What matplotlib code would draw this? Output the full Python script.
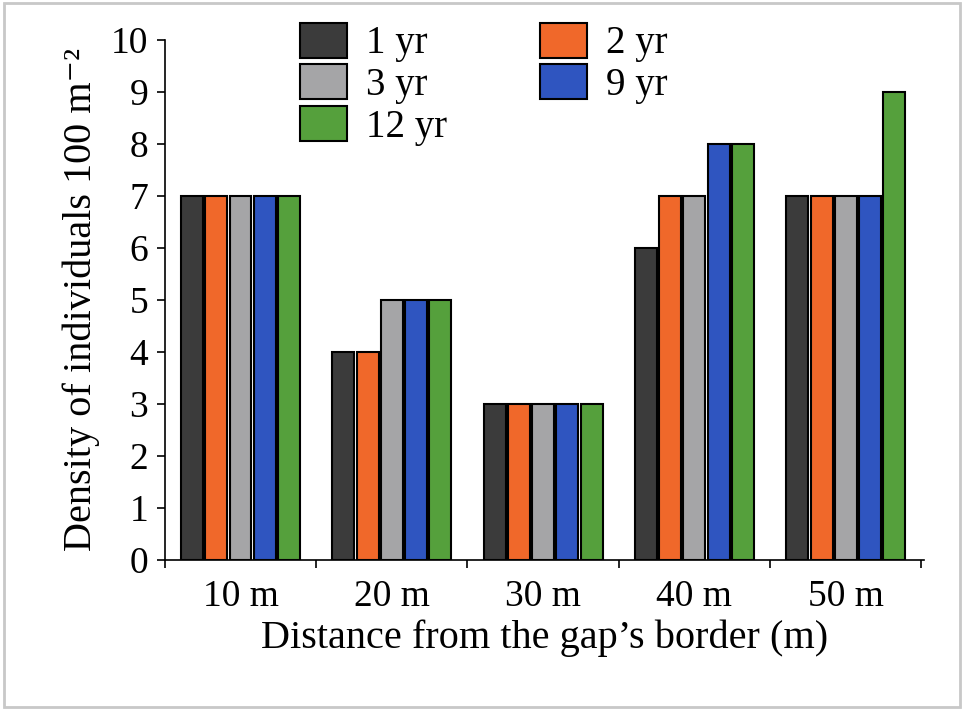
import matplotlib.pyplot as plt
import numpy as np
from matplotlib.patches import Rectangle

plt.rcParams['font.family'] = ['Liberation Serif', 'DejaVu Serif']

distances = ["10 m", "20 m", "30 m", "40 m", "50 m"]
series_labels = ["1 yr", "2 yr", "3 yr", "9 yr", "12 yr"]
values = {
    "1 yr": [7, 4, 3, 6, 7],
    "2 yr": [7, 4, 3, 7, 7],
    "3 yr": [7, 5, 3, 7, 7],
    "9 yr": [7, 5, 3, 8, 7],
    "12 yr": [7, 5, 3, 8, 9],
}
colors = ["#3b3b3b", "#f0682a", "#a5a5a7", "#2f55c0", "#55a03c"]

fig = plt.figure(figsize=(9.64, 7.10), dpi=100)
fig.patches.append(Rectangle((0.004, 0.004), 0.992, 0.992, transform=fig.transFigure,
                             fill=False, edgecolor="#c8c8c8", linewidth=2))
ax = fig.add_axes([0.171, 0.211, 0.788, 0.733])

x = np.arange(len(distances))
width = 0.145
step = 0.16
handles = {}
for i, (lab, col) in enumerate(zip(series_labels, colors)):
    handles[lab] = ax.bar(x + (i - 2) * step, values[lab], width, color=col,
                          edgecolor="black", linewidth=1.5, label=lab, zorder=3)

ax.set_xlim(-0.42, 4.52)
ax.set_ylim(0, 10)
ax.set_yticks(range(0, 11))
ax.set_xticks(x)
ax.set_xticklabels(distances)
ax.set_xticks(np.arange(-0.5, 5, 1), minor=True)
ax.tick_params(axis="x", which="major", length=0, pad=14, labelsize=27)
ax.tick_params(axis="x", which="minor", length=6, width=1.2)
ax.tick_params(axis="y", labelsize=27, length=6, width=1.2, pad=6)
for s in ["top", "right"]:
    ax.spines[s].set_visible(False)
for s in ["left", "bottom"]:
    ax.spines[s].set_linewidth(1.2)

ax.set_ylabel("Density of individuals 100 m\u207b\u00b2", fontsize=29, labelpad=8)
ax.set_xlabel("Distance from the gap\u2019s border (m)", fontsize=29, labelpad=4)

order = ["1 yr", "3 yr", "12 yr", "2 yr", "9 yr"]
ax.legend([handles[k] for k in order], order, ncol=2, frameon=False, fontsize=28,
          loc="upper center", bbox_to_anchor=(0.42, 1.1), handlelength=1.2,
          handleheight=1.0, columnspacing=2.4, labelspacing=0.05, handletextpad=0.5)

fig.savefig("out.png", dpi=100)
